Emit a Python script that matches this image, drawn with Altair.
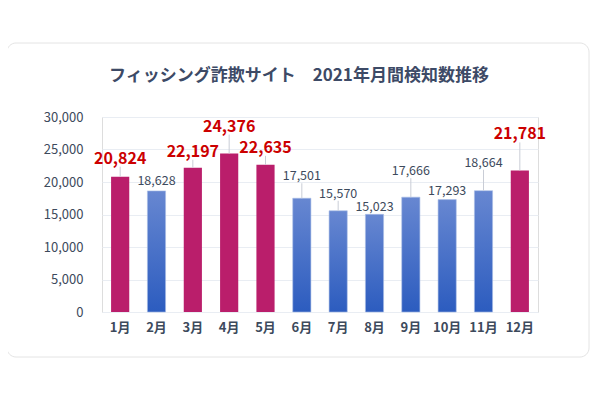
import altair as alt
import pandas as pd

months = ["1月", "2月", "3月", "4月", "5月", "6月", "7月", "8月", "9月", "10月", "11月", "12月"]
counts = [20824, 18628, 22197, 24376, 22635, 17501, 15570, 15023, 17666, 17293, 18664, 21781]
highlight = [True, False, True, True, True, False, False, False, False, False, False, True]
y_ticks = [0, 5000, 10000, 15000, 20000, 25000, 30000]
title_text = "フィッシング詐欺サイト　2021年月間検知数推移"

# --- styling (label lift above bar top, in pixels) ---
label_lift_px = [13, 6, 11, 22, 12, 18, 13, 3, 22, 5, 24, 31]

PLOT_W, PLOT_H = 436, 195
Y_MAX = 30000
px_to_val = Y_MAX / PLOT_H

df = pd.DataFrame({"month": months, "count": counts, "hi": highlight,
                   "lift": label_lift_px})
df["label_y"] = df["count"] + df["lift"] * px_to_val

FONT = "Noto Sans CJK JP"
TXT = "#3d4a5c"

x_enc = alt.X("month:N", sort=months, title=None,
              scale=alt.Scale(paddingInner=0.5, paddingOuter=0.25),
              axis=alt.Axis(labelAngle=0, labelFontSize=13, labelFontWeight="bold",
                            labelColor=TXT, labelFont=FONT, ticks=False, domain=False,
                            labelPadding=9))
y_axis = alt.Axis(values=y_ticks, labelExpr="format(datum.value, ',')",
                  labelFontSize=13, labelColor=TXT,
                  labelFont=FONT, ticks=False, domain=False, labelPadding=19,
                  gridColor="#e9edf3", gridWidth=1)
y_scale = alt.Scale(domain=[0, Y_MAX], nice=False)


def y_of(field):
    return alt.Y(field, title=None, scale=y_scale, axis=y_axis)


base = alt.Chart(df)

card = alt.Chart(pd.DataFrame({"c": [1]})).mark_rect(
    fill="white", fillOpacity=0, stroke="#e4e4e4", strokeWidth=1, cornerRadius=9
).encode(x=alt.value(-95), x2=alt.value(487), y=alt.value(-74), y2=alt.value(240))

title = alt.Chart(pd.DataFrame({"t": [title_text]})).mark_text(
    font=FONT, fontSize=17, fontWeight="bold", color="#3d4a66",
    align="center", baseline="middle"
).encode(text="t:N", x=alt.value(197), y=alt.value(-41))

blue_grad = alt.Gradient(
    gradient="linear",
    stops=[alt.GradientStop(color="#6787d1", offset=0),
           alt.GradientStop(color="#2c5cbf", offset=1)],
    x1=0, x2=0, y1=0, y2=1,
)

bars_blue = base.transform_filter("!datum.hi").mark_bar(
    color=blue_grad, stroke="#a9bde6", strokeWidth=0.6
).encode(x=x_enc, y=y_of("count:Q"))

bars_red = base.transform_filter("datum.hi").mark_bar(
    color="#ba1e6b"
).encode(x=x_enc, y=y_of("count:Q"))

leaders = base.transform_filter("datum.lift >= 8").mark_rule(
    color="#c9cdd6", strokeWidth=1, y2Offset=3
).encode(x=x_enc, y=y_of("count:Q"), y2=alt.Y2("label_y:Q"))

labels_red = base.transform_filter("datum.hi").mark_text(
    color="#cc0000", fontSize=16, fontWeight="bold", font=FONT, baseline="alphabetic"
).encode(x=x_enc, y=y_of("label_y:Q"), text=alt.Text("count:Q", format=","))

labels_gray = base.transform_filter("!datum.hi").mark_text(
    color=TXT, fontSize=12.5, font=FONT, baseline="alphabetic"
).encode(x=x_enc, y=y_of("label_y:Q"), text=alt.Text("count:Q", format=","))

chart = alt.layer(card, title, bars_blue, bars_red, leaders, labels_red, labels_gray).properties(
    width=PLOT_W, height=PLOT_H,
    autosize=alt.AutoSizeParams(type="none"),
    padding={"left": 94, "top": 109, "right": 54, "bottom": 60},
).configure_view(stroke=None).configure(background="white")

chart.save("out.html", embed_options={"renderer": "svg", "actions": False})
